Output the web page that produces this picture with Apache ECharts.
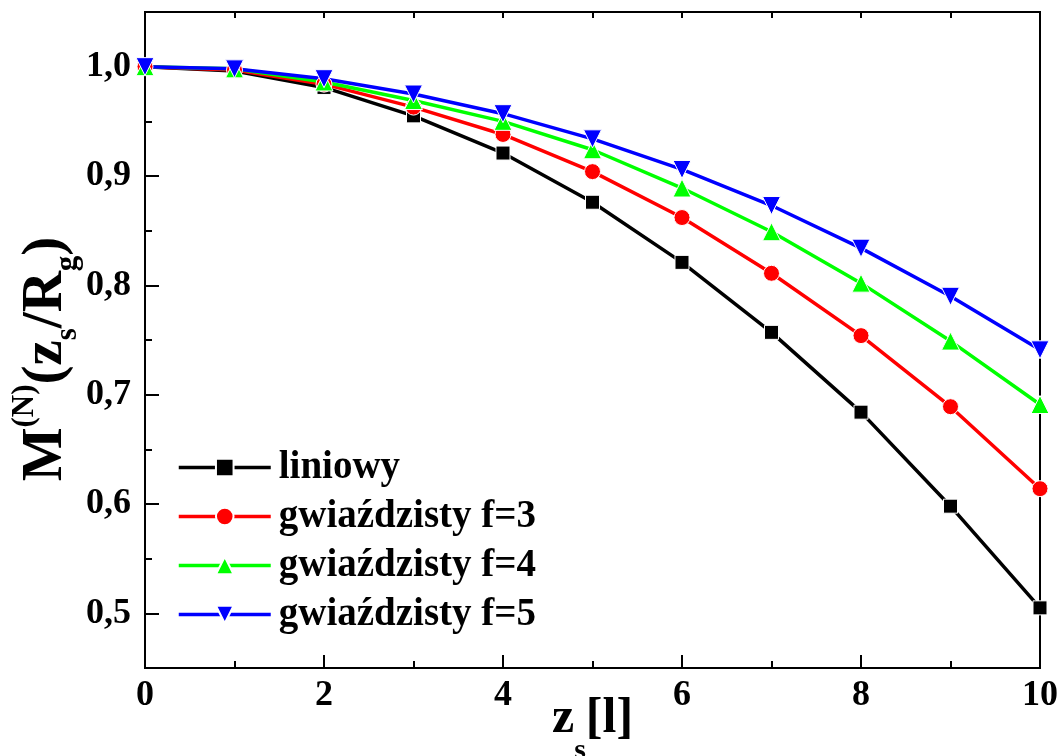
<!doctype html>
<html lang="pl">
<head>
    <meta charset="UTF-8">
    <title>M(N)(zs/Rg)</title>
    <script src="https://cdn.jsdelivr.net/npm/echarts@6/dist/echarts.min.js"></script>
    <style>
        html, body { margin: 0; padding: 0; background: #fff; }
    </style>
</head>
<body>

<div id="chart" style="width: 1060px;height: 756px;"></div>
<script type="text/javascript">
    // dane
    let zs = [0, 1, 2, 3, 4, 5, 6, 7, 8, 9, 10];
    let liniowy = [1.000, 0.996, 0.981, 0.955, 0.921, 0.876, 0.821, 0.757, 0.684, 0.598, 0.505];
    let gw3 = [1.000, 0.997, 0.984, 0.963, 0.938, 0.904, 0.862, 0.811, 0.754, 0.689, 0.614];
    let gw4 = [1.000, 0.998, 0.986, 0.969, 0.950, 0.924, 0.889, 0.849, 0.802, 0.749, 0.691];
    let gw5 = [1.000, 0.998, 0.989, 0.975, 0.957, 0.934, 0.906, 0.873, 0.834, 0.790, 0.741];
    let names = ['liniowy', 'gwiaździsty f=3', 'gwiaździsty f=4', 'gwiaździsty f=5'];
    let yMajor = [0.5, 0.6, 0.7, 0.8, 0.9, 1.0];

    let font = "'Liberation Serif', 'Times New Roman', serif";

    function pairs(ys) {
        let out = [];
        for (let i = 0; i < zs.length; i++) {
            out.push([zs[i], ys[i]]);
        }
        return out;
    }

    function makeSeries(name, ys, color, symbol, size) {
        return {
            name: name,
            type: 'line',
            data: pairs(ys),
            xAxisIndex: 0,
            yAxisIndex: 0,
            symbol: symbol,
            symbolSize: size,
            clip: false,
            lineStyle: { color: color, width: 3.5 },
            itemStyle: { color: color, borderColor: '#fff', borderWidth: 1 },
            emphasis: { disabled: true }
        };
    }

    let chart = echarts.init(document.getElementById("chart"));
    chart.setOption({
        animation: false,
        backgroundColor: '#fff',
        grid: {
            left: 145, right: 20, top: 12, bottom: 88,
            containLabel: false,
            outerBoundsMode: 'none',
            show: true, borderColor: '#000', borderWidth: 2
        },
        legend: {
            orient: 'vertical',
            left: 177,
            top: 448,
            padding: 0,
            itemWidth: 92,
            itemHeight: 22,
            itemGap: 10,
            data: names,
            lineStyle: { width: 3.5 },
            textStyle: {
                fontFamily: font, fontWeight: 'bold', fontSize: 39,
                color: '#000', lineHeight: 39, padding: [0, 0, 0, 3]
            }
        },
        xAxis: [
            {
                type: 'value', position: 'bottom', min: 0, max: 10, interval: 1,
                axisLine: { show: true, lineStyle: { color: '#000', width: 2 } },
                axisTick: { show: true, inside: true, length: 7, lineStyle: { width: 2, color: '#000' } },
                axisLabel: { show: false },
                splitLine: { show: false },
                name: '{b|z}{sub|s}{b|[l]}',
                nameLocation: 'middle',
                nameGap: 26,
                nameTextStyle: {
                    verticalAlign: 'top',
                    rich: {
                        b: { fontFamily: font, fontWeight: 'bold', fontSize: 50, color: '#000', lineHeight: 72, verticalAlign: 'top' },
                        sub: { fontFamily: font, fontWeight: 'bold', fontSize: 30, color: '#000', lineHeight: 30, verticalAlign: 'bottom' }
                    }
                }
            },
            {
                type: 'value', position: 'bottom', min: 0, max: 10, interval: 2,
                axisLine: { show: false },
                axisTick: { show: true, inside: true, length: 13, lineStyle: { width: 2, color: '#000' } },
                axisLabel: {
                    margin: 10, color: '#000', fontFamily: font, fontWeight: 'bold', fontSize: 36
                },
                splitLine: { show: false }
            },
            {
                type: 'value', position: 'top', min: 0, max: 10, interval: 1,
                axisLine: { show: true, lineStyle: { color: '#000', width: 2 } },
                axisTick: { show: true, inside: true, length: 6, lineStyle: { width: 2, color: '#000' } },
                axisLabel: { show: false },
                splitLine: { show: false }
            }
        ],
        yAxis: [
            {
                type: 'value', position: 'left', min: 0.45, max: 1.05, interval: 0.05,
                axisLine: { show: true, lineStyle: { color: '#000', width: 2 } },
                axisTick: { show: true, inside: true, length: 7, lineStyle: { width: 2, color: '#000' } },
                axisLabel: { show: false },
                splitLine: { show: false },
                name: '{b|M}{sup|(N)}{b|(z}{sub|s}{b|/R}{sub|g}{b|)}',
                nameLocation: 'middle',
                nameGap: 62,
                nameTextStyle: {
                    padding: [0, 38, 0, 0],
                    rich: {
                        b: { fontFamily: font, fontWeight: 'bold', fontSize: 57, color: '#000', lineHeight: 74 },
                        sup: { fontFamily: font, fontWeight: 'bold', fontSize: 31, color: '#000', verticalAlign: 'top', lineHeight: 74 },
                        sub: { fontFamily: font, fontWeight: 'bold', fontSize: 31, color: '#000', verticalAlign: 'bottom', lineHeight: 74 }
                    }
                }
            },
            {
                type: 'value', position: 'left', min: 0.45, max: 1.05,
                axisLine: { show: false },
                axisTick: { show: true, inside: true, length: 14, customValues: yMajor, lineStyle: { width: 2, color: '#000' } },
                axisLabel: {
                    show: true,
                    customValues: yMajor,
                    margin: 14, color: '#000', fontFamily: font, fontWeight: 'bold', fontSize: 36,
                    formatter: function (v) { return v.toFixed(1).replace('.', ','); }
                },
                splitLine: { show: false }
            },
            {
                type: 'value', position: 'right', min: 0.45, max: 1.05,
                axisLine: { show: true, lineStyle: { color: '#000', width: 2 } },
                axisTick: { show: false },
                axisLabel: { show: false },
                splitLine: { show: false }
            }
        ],
        series: [
            makeSeries(names[0], liniowy, '#000000', 'rect', 14),
            makeSeries(names[1], gw3, '#ff0000', 'circle', 16),
            makeSeries(names[2], gw4, '#00ff00', 'triangle', 18),
            makeSeries(names[3], gw5, '#0000ff', 'path://M0,0 L10,0 L5,9 Z', 18)
        ]
    });
</script>
</body>
</html>
